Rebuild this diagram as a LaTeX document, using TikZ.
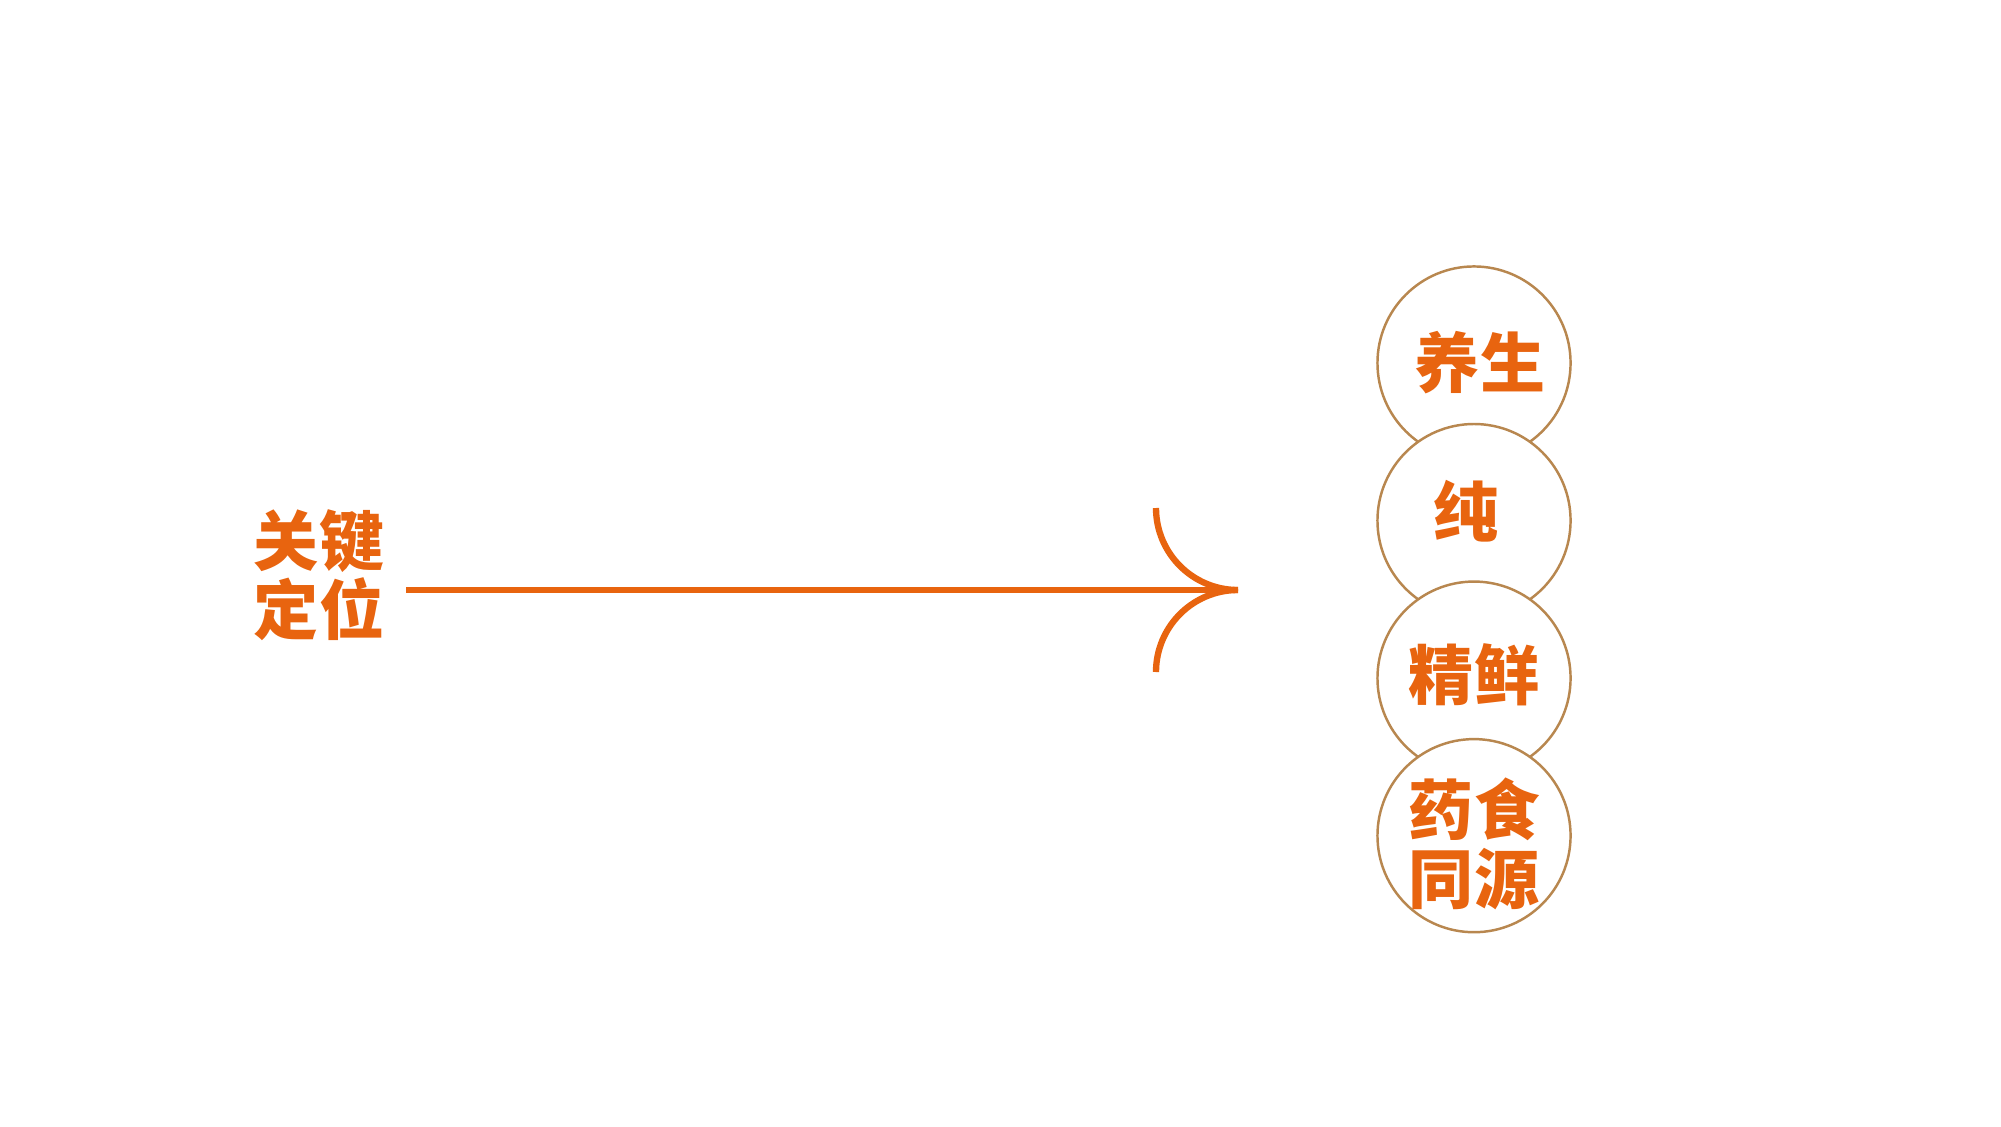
\documentclass[tikz,border=0pt]{standalone}
\usepackage{fontspec}
\newfontfamily\cjk{Noto Sans CJK SC}
\usepackage{tikz}
\usetikzlibrary{positioning}
\definecolor{keyorange}{HTML}{E8640F}
\definecolor{ringbrown}{HTML}{B8874F}

\tikzset{
	word/.style={font=\cjk\bfseries\fontsize{18.5}{19.5}\selectfont,text=keyorange,align=center,inner sep=0pt},
	ring/.style={circle,draw=ringbrown,line width=0.7pt,fill=white,minimum size=1.93cm,inner sep=0pt},
	flow/.style={draw=keyorange,line width=1.8pt}
}

\begin{document}
\begin{tikzpicture}[x=0.01cm,y=0.01cm]
		\useasboundingbox (0,0) rectangle (2001,1126);
		% left label and arrow
		\node[word](key) at (319,551) {关键\\定位};
		\coordinate(tip) at (1238,536);
		\draw[flow] (406,536) -- (tip);
		\draw[flow] (tip) arc (270:180:82);
		\draw[flow] (tip) arc (90:180:82);
		% stacked circles
		\node[ring](c1) at (1474,763) {};
		\node[ring](c2) [below=-0.38cm of c1] {};
		\node[ring](c3) [below=-0.38cm of c2] {};
		\node[ring](c4) [below=-0.38cm of c3] {};
		\node[word] at ([xshift=0.06cm]c1) {养生};
		\node[word] at ([xshift=-0.08cm,yshift=0.09cm]c2) {纯};
		\node[word] at ([yshift=0.03cm]c3) {精鲜};
		\node[word] at ([yshift=-0.08cm]c4) {药食\\同源};
\end{tikzpicture}
\end{document}
